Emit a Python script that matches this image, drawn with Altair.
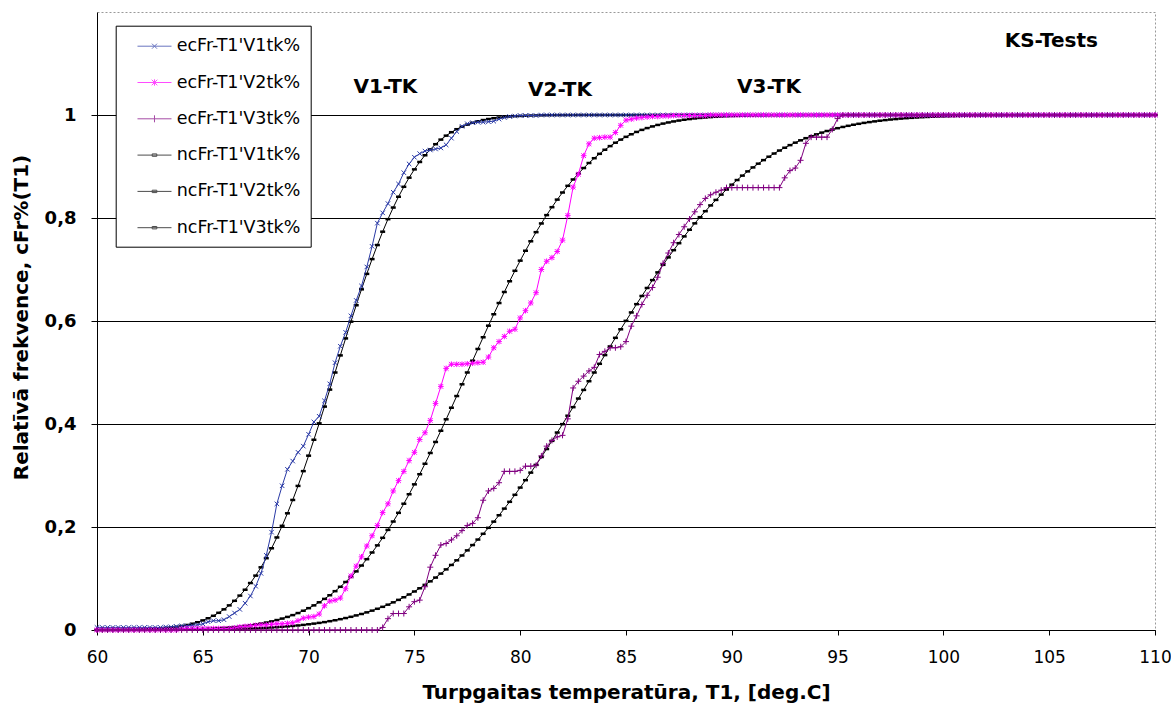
import altair as alt
import pandas as pd

# Temperature grid (deg C)
T = [
    60, 60.25, 60.5, 60.75, 61, 61.25, 61.5, 61.75, 62, 62.25, 62.5, 62.75, 63, 63.25, 63.5, 63.75, 64, 64.25, 64.5, 64.75,
    65, 65.25, 65.5, 65.75, 66, 66.25, 66.5, 66.75, 67, 67.25, 67.5, 67.75, 68, 68.25, 68.5, 68.75, 69, 69.25, 69.5, 69.75,
    70, 70.25, 70.5, 70.75, 71, 71.25, 71.5, 71.75, 72, 72.25, 72.5, 72.75, 73, 73.25, 73.5, 73.75, 74, 74.25, 74.5, 74.75,
    75, 75.25, 75.5, 75.75, 76, 76.25, 76.5, 76.75, 77, 77.25, 77.5, 77.75, 78, 78.25, 78.5, 78.75, 79, 79.25, 79.5, 79.75,
    80, 80.25, 80.5, 80.75, 81, 81.25, 81.5, 81.75, 82, 82.25, 82.5, 82.75, 83, 83.25, 83.5, 83.75, 84, 84.25, 84.5, 84.75,
    85, 85.25, 85.5, 85.75, 86, 86.25, 86.5, 86.75, 87, 87.25, 87.5, 87.75, 88, 88.25, 88.5, 88.75, 89, 89.25, 89.5, 89.75,
    90, 90.25, 90.5, 90.75, 91, 91.25, 91.5, 91.75, 92, 92.25, 92.5, 92.75, 93, 93.25, 93.5, 93.75, 94, 94.25, 94.5, 94.75,
    95, 95.25, 95.5, 95.75, 96, 96.25, 96.5, 96.75, 97, 97.25, 97.5, 97.75, 98, 98.25, 98.5, 98.75, 99, 99.25, 99.5, 99.75,
    100, 100.25, 100.5, 100.75, 101, 101.25, 101.5, 101.75, 102, 102.25, 102.5, 102.75, 103, 103.25, 103.5, 103.75, 104, 104.25, 104.5, 104.75,
    105, 105.25, 105.5, 105.75, 106, 106.25, 106.5, 106.75, 107, 107.25, 107.5, 107.75, 108, 108.25, 108.5, 108.75, 109, 109.25, 109.5, 109.75,
    110,
]

# Empirical cumulative frequencies
ec_v1 = [
    0.005, 0.005, 0.005, 0.005, 0.005, 0.005, 0.005, 0.005, 0.005, 0.005, 0.005, 0.005, 0.005, 0.006, 0.006, 0.007, 0.008, 0.008, 0.009, 0.010,
    0.012, 0.016, 0.018, 0.018, 0.020, 0.026, 0.033, 0.040, 0.052, 0.066, 0.085, 0.110, 0.145, 0.190, 0.245, 0.280, 0.312, 0.328, 0.345, 0.357,
    0.380, 0.404, 0.415, 0.445, 0.478, 0.519, 0.551, 0.578, 0.610, 0.640, 0.668, 0.705, 0.745, 0.790, 0.810, 0.828, 0.850, 0.866, 0.888, 0.905,
    0.918, 0.925, 0.930, 0.932, 0.934, 0.936, 0.942, 0.955, 0.968, 0.978, 0.983, 0.985, 0.986, 0.986, 0.987, 0.988, 0.992, 0.995, 0.997, 0.998,
    0.999, 0.999, 0.999, 0.999, 1, 1, 1, 1, 1, 1, 1, 1, 1, 1, 1, 1, 1, 1, 1, 1,
    1, 1, 1, 1, 1, 1, 1, 1, 1, 1, 1, 1, 1, 1, 1, 1, 1, 1, 1, 1,
    1, 1, 1, 1, 1, 1, 1, 1, 1, 1, 1, 1, 1, 1, 1, 1, 1, 1, 1, 1,
    1, 1, 1, 1, 1, 1, 1, 1, 1, 1, 1, 1, 1, 1, 1, 1, 1, 1, 1, 1,
    1, 1, 1, 1, 1, 1, 1, 1, 1, 1, 1, 1, 1, 1, 1, 1, 1, 1, 1, 1,
    1, 1, 1, 1, 1, 1, 1, 1, 1, 1, 1, 1, 1, 1, 1, 1, 1, 1, 1, 1,
    1,
]

ec_v2 = [
    0, 0, 0, 0, 0, 0, 0, 0, 0, 0, 0, 0, 0, 0, 0, 0, 0.002, 0.003, 0.003, 0.003,
    0.003, 0.003, 0.003, 0.003, 0.003, 0.003, 0.004, 0.006, 0.007, 0.008, 0.009, 0.010, 0.010, 0.011, 0.012, 0.012, 0.013, 0.014, 0.018, 0.023,
    0.025, 0.026, 0.031, 0.047, 0.056, 0.058, 0.062, 0.080, 0.105, 0.124, 0.142, 0.163, 0.183, 0.203, 0.228, 0.245, 0.270, 0.290, 0.308, 0.329,
    0.345, 0.370, 0.383, 0.407, 0.440, 0.473, 0.508, 0.516, 0.516, 0.516, 0.517, 0.518, 0.519, 0.520, 0.530, 0.548, 0.560, 0.570, 0.580, 0.584,
    0.606, 0.620, 0.635, 0.655, 0.700, 0.716, 0.723, 0.735, 0.757, 0.805, 0.860, 0.885, 0.921, 0.944, 0.955, 0.956, 0.957, 0.957, 0.966, 0.980,
    0.990, 0.992, 0.994, 0.995, 0.996, 0.997, 0.997, 0.998, 0.998, 0.999, 0.999, 0.999, 0.999, 0.999, 0.999, 0.999, 1, 1, 1, 1,
    1, 1, 1, 1, 1, 1, 1, 1, 1, 1, 1, 1, 1, 1, 1, 1, 1, 1, 1, 1,
    1, 1, 1, 1, 1, 1, 1, 1, 1, 1, 1, 1, 1, 1, 1, 1, 1, 1, 1, 1,
    1, 1, 1, 1, 1, 1, 1, 1, 1, 1, 1, 1, 1, 1, 1, 1, 1, 1, 1, 1,
    1, 1, 1, 1, 1, 1, 1, 1, 1, 1, 1, 1, 1, 1, 1, 1, 1, 1, 1, 1,
    1,
]

ec_v3 = [
    0, 0, 0, 0, 0, 0, 0, 0, 0, 0, 0, 0, 0, 0, 0, 0, 0, 0, 0, 0,
    0, 0, 0, 0, 0, 0, 0, 0, 0, 0, 0, 0, 0, 0, 0, 0, 0, 0, 0, 0,
    0, 0, 0, 0, 0, 0, 0, 0, 0, 0, 0, 0, 0, 0, 0.005, 0.022, 0.032, 0.032, 0.032, 0.045,
    0.055, 0.058, 0.084, 0.122, 0.145, 0.165, 0.168, 0.175, 0.183, 0.193, 0.203, 0.207, 0.218, 0.252, 0.270, 0.275, 0.286, 0.308, 0.308, 0.308,
    0.310, 0.318, 0.318, 0.320, 0.338, 0.357, 0.368, 0.375, 0.378, 0.410, 0.470, 0.483, 0.493, 0.503, 0.510, 0.535, 0.541, 0.548, 0.548, 0.550,
    0.560, 0.590, 0.610, 0.632, 0.650, 0.665, 0.685, 0.712, 0.732, 0.752, 0.768, 0.783, 0.798, 0.812, 0.826, 0.838, 0.845, 0.850, 0.854, 0.859,
    0.859, 0.859, 0.859, 0.859, 0.859, 0.859, 0.859, 0.859, 0.859, 0.859, 0.878, 0.892, 0.897, 0.912, 0.945, 0.957, 0.957, 0.957, 0.957, 0.972,
    0.993, 1, 1, 1, 1, 1, 1, 1, 1, 1, 1, 1, 1, 1, 1, 1, 1, 1, 1, 1,
    1, 1, 1, 1, 1, 1, 1, 1, 1, 1, 1, 1, 1, 1, 1, 1, 1, 1, 1, 1,
    1, 1, 1, 1, 1, 1, 1, 1, 1, 1, 1, 1, 1, 1, 1, 1, 1, 1, 1, 1,
    1,
]

# Normal (fitted) cumulative frequencies
nc_v1 = [
    0.0001, 0.0001, 0.0001, 0.0002, 0.0003, 0.0004, 0.0006, 0.0008, 0.0010, 0.0013, 0.0018, 0.0023, 0.0030, 0.0038, 0.0049, 0.0062, 0.0078, 0.0098, 0.0122, 0.0151,
    0.0186, 0.0228, 0.0276, 0.0334, 0.0401, 0.0478, 0.0567, 0.0668, 0.0782, 0.0912, 0.1056, 0.1217, 0.1394, 0.1587, 0.1797, 0.2023, 0.2266, 0.2525, 0.2798, 0.3085,
    0.3385, 0.3694, 0.4013, 0.4338, 0.4668, 0.5000, 0.5332, 0.5662, 0.5987, 0.6306, 0.6615, 0.6915, 0.7202, 0.7475, 0.7734, 0.7977, 0.8203, 0.8413, 0.8606, 0.8783,
    0.8944, 0.9088, 0.9218, 0.9332, 0.9433, 0.9522, 0.9599, 0.9666, 0.9724, 0.9772, 0.9813, 0.9849, 0.9878, 0.9902, 0.9922, 0.9938, 0.9951, 0.9962, 0.9970, 0.9977,
    0.9982, 0.9987, 0.9990, 0.9992, 0.9994, 0.9996, 0.9997, 0.9998, 0.9998, 0.9999, 0.9999, 1, 1, 1, 1, 1, 1, 1, 1, 1,
    1, 1, 1, 1, 1, 1, 1, 1, 1, 1, 1, 1, 1, 1, 1, 1, 1, 1, 1, 1,
    1, 1, 1, 1, 1, 1, 1, 1, 1, 1, 1, 1, 1, 1, 1, 1, 1, 1, 1, 1,
    1, 1, 1, 1, 1, 1, 1, 1, 1, 1, 1, 1, 1, 1, 1, 1, 1, 1, 1, 1,
    1, 1, 1, 1, 1, 1, 1, 1, 1, 1, 1, 1, 1, 1, 1, 1, 1, 1, 1, 1,
    1, 1, 1, 1, 1, 1, 1, 1, 1, 1, 1, 1, 1, 1, 1, 1, 1, 1, 1, 1,
    1,
]

nc_v2 = [
    0, 0, 0, 0, 0.0001, 0.0001, 0.0001, 0.0001, 0.0002, 0.0002, 0.0003, 0.0003, 0.0004, 0.0005, 0.0006, 0.0008, 0.0010, 0.0012, 0.0014, 0.0017,
    0.0020, 0.0024, 0.0029, 0.0035, 0.0041, 0.0049, 0.0057, 0.0067, 0.0079, 0.0092, 0.0108, 0.0125, 0.0145, 0.0167, 0.0193, 0.0222, 0.0254, 0.0289, 0.0329, 0.0374,
    0.0424, 0.0478, 0.0538, 0.0604, 0.0675, 0.0754, 0.0839, 0.0932, 0.1030, 0.1138, 0.1252, 0.1375, 0.1505, 0.1643, 0.1790, 0.1944, 0.2106, 0.2275, 0.2452, 0.2636,
    0.2828, 0.3025, 0.3228, 0.3437, 0.3651, 0.3869, 0.4091, 0.4316, 0.4543, 0.4771, 0.5000, 0.5229, 0.5457, 0.5684, 0.5909, 0.6131, 0.6349, 0.6563, 0.6772, 0.6975,
    0.7172, 0.7364, 0.7548, 0.7725, 0.7894, 0.8056, 0.8210, 0.8357, 0.8495, 0.8625, 0.8748, 0.8862, 0.8970, 0.9068, 0.9161, 0.9246, 0.9325, 0.9396, 0.9462, 0.9522,
    0.9576, 0.9626, 0.9671, 0.9711, 0.9746, 0.9778, 0.9807, 0.9833, 0.9855, 0.9875, 0.9892, 0.9908, 0.9921, 0.9933, 0.9943, 0.9951, 0.9959, 0.9965, 0.9971, 0.9976,
    0.9980, 0.9983, 0.9986, 0.9988, 0.9990, 0.9992, 0.9994, 0.9995, 0.9996, 0.9997, 0.9997, 0.9998, 0.9998, 0.9999, 0.9999, 0.9999, 0.9999, 1, 1, 1,
    1, 1, 1, 1, 1, 1, 1, 1, 1, 1, 1, 1, 1, 1, 1, 1, 1, 1, 1, 1,
    1, 1, 1, 1, 1, 1, 1, 1, 1, 1, 1, 1, 1, 1, 1, 1, 1, 1, 1, 1,
    1, 1, 1, 1, 1, 1, 1, 1, 1, 1, 1, 1, 1, 1, 1, 1, 1, 1, 1, 1,
    1,
]

nc_v3 = [
    0.0001, 0.0001, 0.0001, 0.0001, 0.0001, 0.0001, 0.0001, 0.0001, 0.0001, 0.0002, 0.0002, 0.0002, 0.0003, 0.0003, 0.0003, 0.0004, 0.0005, 0.0006, 0.0006, 0.0007,
    0.0009, 0.0010, 0.0011, 0.0013, 0.0015, 0.0017, 0.0020, 0.0023, 0.0026, 0.0029, 0.0033, 0.0038, 0.0043, 0.0049, 0.0055, 0.0062, 0.0070, 0.0079, 0.0088, 0.0099,
    0.0111, 0.0124, 0.0138, 0.0153, 0.0171, 0.0189, 0.0210, 0.0232, 0.0256, 0.0283, 0.0311, 0.0342, 0.0376, 0.0412, 0.0450, 0.0492, 0.0537, 0.0585, 0.0636, 0.0690,
    0.0748, 0.0810, 0.0876, 0.0945, 0.1018, 0.1095, 0.1177, 0.1263, 0.1353, 0.1447, 0.1546, 0.1649, 0.1756, 0.1868, 0.1984, 0.2104, 0.2228, 0.2357, 0.2489, 0.2625,
    0.2765, 0.2909, 0.3056, 0.3206, 0.3359, 0.3514, 0.3673, 0.3834, 0.3997, 0.4161, 0.4327, 0.4494, 0.4662, 0.4831, 0.5000, 0.5169, 0.5338, 0.5506, 0.5673, 0.5839,
    0.6003, 0.6166, 0.6327, 0.6486, 0.6641, 0.6794, 0.6944, 0.7091, 0.7235, 0.7375, 0.7511, 0.7643, 0.7772, 0.7896, 0.8016, 0.8132, 0.8244, 0.8351, 0.8454, 0.8553,
    0.8647, 0.8737, 0.8823, 0.8905, 0.8982, 0.9055, 0.9124, 0.9190, 0.9252, 0.9310, 0.9364, 0.9415, 0.9463, 0.9508, 0.9550, 0.9588, 0.9624, 0.9658, 0.9689, 0.9717,
    0.9744, 0.9768, 0.9790, 0.9811, 0.9829, 0.9847, 0.9862, 0.9876, 0.9889, 0.9901, 0.9912, 0.9921, 0.9930, 0.9938, 0.9945, 0.9951, 0.9957, 0.9962, 0.9967, 0.9971,
    0.9974, 0.9977, 0.9980, 0.9983, 0.9985, 0.9987, 0.9989, 0.9990, 0.9991, 0.9993, 0.9994, 0.9994, 0.9995, 0.9996, 0.9997, 0.9997, 0.9997, 0.9998, 0.9998, 0.9998,
    0.9999, 0.9999, 0.9999, 0.9999, 0.9999, 0.9999, 0.9999, 0.9999, 0.9999, 1, 1, 1, 1, 1, 1, 1, 1, 1, 1, 1,
    1,
]

for s in (ec_v1, ec_v2, ec_v3, nc_v1, nc_v2, nc_v3):
    assert len(s) == len(T), len(s)

series_names = ["ecFr-T1'V1tk%", "ecFr-T1'V2tk%", "ecFr-T1'V3tk%",
                "ncFr-T1'V1tk%", "ncFr-T1'V2tk%", "ncFr-T1'V3tk%"]
series_colors = ["#2a3aa6", "#ff00ff", "#800080", "#000000", "#000000", "#000000"]

# Annotations
ann_text = ["V1-TK", "V2-TK", "V3-TK", "KS-Tests"]
ann_T = [73.63, 81.88, 91.76, 105.1]
ann_v = [1.054, 1.049, 1.055, 1.144]

x_ticks = [60, 65, 70, 75, 80, 85, 90, 95, 100, 105, 110]
y_ticks = [0, 0.2, 0.4, 0.6, 0.8, 1.0]

FONT = "DejaVu Sans"

X = alt.X(
    "T:Q",
    scale=alt.Scale(domain=[60, 110], nice=False, zero=False),
    axis=alt.Axis(
        values=x_ticks, grid=False, title="Turpgaitas temperatūra, T1, [deg.C]",
        titleFont=FONT, titleFontSize=20, titleFontWeight="bold", titleColor="black",
        titleX=529, titleY=62, titleAlign="center", titleBaseline="middle",
        labelFont=FONT, labelFontSize=17, labelColor="black", labelPadding=14,
        labelFlush=False, labelOverlap=False,
        tickSize=5, tickColor="black", domainColor="black", domainWidth=1,
    ),
)
Y = alt.Y(
    "v:Q",
    scale=alt.Scale(domain=[0, 1.2], nice=False, zero=False),
    axis=alt.Axis(
        values=y_ticks, grid=True, gridColor="black", gridWidth=1,
        title="Relatīvā frekvence, cFr%(T1)",
        titleFont=FONT, titleFontSize=20, titleFontWeight="bold", titleColor="black",
        titleX=-76, titleY=305, titleAlign="center", titleBaseline="middle", titleAngle=270,
        labelFont=FONT, labelFontSize=18, labelFontWeight="bold", labelColor="black", labelPadding=15,
        labelExpr="datum.value == 0 ? '0' : (datum.value == 1 ? '1' : replace(format(datum.value, '.1f'), '.', ','))",
        tickSize=6, tickColor="black", domainColor="black", domainWidth=1,
    ),
)

# Marker glyphs (unit square paths)
P_X = "M-1,-1L1,1M-1,1L1,-1"
P_AST = "M-1,-1L1,1M-1,1L1,-1M0,-1.2V1.2M-1.2,0H1.2"
P_PLUS = "M-1,0H1M0,-1V1"
P_DASH = "M-1,-0.5H1V0.5H-1Z"

layers = []
nc_series = [nc_v1, nc_v2, nc_v3]
for vals in nc_series:
    df = pd.DataFrame({"T": T, "v": vals})
    layers.append(alt.Chart(df).mark_line(color="black", strokeWidth=1).encode(x=X, y=Y))
    layers.append(alt.Chart(df).mark_point(shape=P_DASH, size=25, filled=True, color="black", opacity=1).encode(x=X, y=Y))

ec_series = [(ec_v1, series_colors[0], P_X, 20), (ec_v2, series_colors[1], P_AST, 22), (ec_v3, series_colors[2], P_PLUS, 36)]
for vals, col, shp, sz in ec_series:
    df = pd.DataFrame({"T": T, "v": vals})
    layers.append(alt.Chart(df).mark_line(color=col, strokeWidth=1).encode(x=X, y=Y))
    layers.append(alt.Chart(df).mark_point(shape=shp, size=sz, filled=False, color=col, strokeWidth=1, opacity=1).encode(x=X, y=Y))

ann_df = pd.DataFrame({"T": ann_T, "v": ann_v, "label": ann_text})
layers.append(
    alt.Chart(ann_df).mark_text(font=FONT, fontSize=20, fontWeight="bold", color="black", align="center", baseline="middle")
    .encode(x=X, y=Y, text="label:N")
)

# Legend symbols: line segment with the series marker in the middle
legend_paths = [
    "M0.13,0H3.53M1.58,-0.25L2.08,0.25M1.58,0.25L2.08,-0.25",
    "M0.13,0H3.53M1.55,-0.28L2.11,0.28M1.55,0.28L2.11,-0.28M1.83,-0.32V0.32",
    "M0.13,0H3.53M1.83,-0.35V0.35",
    "M0.13,0H3.53M1.6,-0.12H2.06V0.12H1.6Z",
    "M0.13,0H3.53M1.6,-0.12H2.06V0.12H1.6Z",
    "M0.13,0H3.53M1.6,-0.12H2.06V0.12H1.6Z",
]
leg = alt.Legend(
    title=None, orient="none", legendX=18.7, legendY=13.7, padding=10,
    strokeColor="black", fillColor="white", symbolSize=400, symbolStrokeWidth=1,
    labelFont=FONT, labelFontSize=17.5, labelColor="black", labelOffset=30,
    rowPadding=17.3, labelLimit=400,
)
leg_df = pd.DataFrame({"T": [50] * 6, "v": [0.5] * 6, "s": series_names})
layers.append(
    alt.Chart(leg_df).mark_point(filled=False, strokeWidth=1, clip=True).encode(
        x=X, y=Y,
        color=alt.Color("s:N", scale=alt.Scale(domain=series_names, range=series_colors), legend=leg),
        shape=alt.Shape("s:N", scale=alt.Scale(domain=series_names, range=legend_paths), legend=leg),
    )
)

chart = (
    alt.layer(*layers)
    .properties(
        width=1058, height=618,
        autosize=alt.AutoSizeParams(type="none"),
        padding={"left": 97, "top": 12, "right": 16, "bottom": 77},
        background="white",
    )
    .configure_view(stroke="#999999", strokeDash=[2, 2], strokeWidth=1)
)

chart.save("out.html", embed_options={"renderer": "svg", "actions": False})
